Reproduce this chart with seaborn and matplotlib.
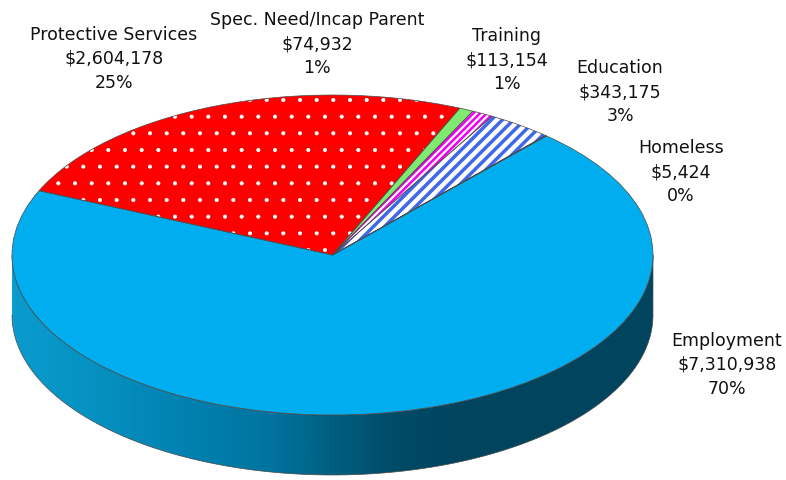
import numpy as np
import matplotlib
matplotlib.use("Agg")
import matplotlib.pyplot as plt
from matplotlib.colors import LinearSegmentedColormap
from matplotlib.patches import PathPatch
from matplotlib.path import Path
import seaborn as sns

categories = ["Protective Services", "Spec. Need/Incap Parent", "Training",
              "Education", "Homeless", "Employment"]
amounts = [2604178, 74932, 113154, 343175, 5424, 7310938]
amount_labels = ["$2,604,178", "$74,932", "$113,154", "$343,175", "$5,424", "$7,310,938"]
percent_labels = ["25%", "1%", "1%", "3%", "0%", "70%"]

fills = ["#FF0000", "#7FEA70", "#FFFFFF", "#FFFFFF", "#222222", "#00ADEF"]
hatch_colors = ["#FFFFFF", "#7FEA70", "#F000F0", "#3F68E8", "#222222", "#00ADEF"]
hatches = [".", None, "/////", "///", None, None]
hatch_widths = [0.5, 1.0, 1.8, 2.5, 1.0, 1.0]
label_centres = [(114, 59), (317, 44), (507, 60), (620, 92), (681, 172), (727, 365)]
wall_stops = [(0.0, "#0A9CCF"), (0.137, "#0590C0"), (0.293, "#007FAD"), (0.40, "#0074A0"),
              (0.50, "#005F80"), (0.605, "#004A66"), (0.70, "#00445E"), (1.0, "#00445E")]

W, H = 786, 480
CX, CY, RX, RY, DEPTH = 332.5, 255, 320.5, 160, 60

sns.set_theme(style="white")
plt.rcParams["font.family"] = ["DejaVu Sans"]

fig = plt.figure(figsize=(W / 100, H / 100), dpi=100)
ax = fig.add_axes([0, 0, 1, 1])

# hatched fill layer
wedges, _ = ax.pie(amounts, startangle=156.3, counterclock=False, radius=1,
                   colors=fills, wedgeprops=dict(linewidth=0))
for w, hc, ha, hw in zip(wedges, hatch_colors, hatches, hatch_widths):
    w.set_edgecolor(hc)
    w.set_hatch(ha)
    w.set_hatch_linewidth(hw)
    w.set_zorder(3)
# thin outline layer
outline, _ = ax.pie(amounts, startangle=156.3, counterclock=False, radius=1,
                    wedgeprops=dict(fill=False, edgecolor="#4A4A4A", linewidth=0.5))
for w in outline:
    w.set_zorder(4)

ax.set_aspect("auto")
xlim = (-CX / RX, (W - CX) / RX)
ylim = (-(H - CY) / RY, CY / RY)

# side wall
t = np.linspace(np.pi, 2 * np.pi, 200)
d = DEPTH / RY
xs = np.r_[np.cos(t), np.cos(t[::-1])]
ys = np.r_[np.sin(t), np.sin(t[::-1]) - d]
wall = PathPatch(Path(np.c_[xs, ys]), transform=ax.transData, fc="none",
                 ec="#4A4A4A", lw=0.5, zorder=2.5)
ax.add_patch(wall)
cmap = LinearSegmentedColormap.from_list("wall", wall_stops)
im = ax.imshow(np.linspace(0, 1, 512)[None, :], cmap=cmap, aspect="auto",
               extent=(-1, 1, -1 - d, 0), zorder=2)
im.set_clip_path(wall)

ax.set_xlim(xlim)
ax.set_ylim(ylim)
ax.axis("off")

for name, amt, pct, (x, y) in zip(categories, amount_labels, percent_labels, label_centres):
    fig.text(x / W, 1 - y / H, f"{name}\n{amt}\n{pct}", ha="center", va="center",
             fontsize=12.5, color="#111111", linespacing=1.42)

fig.savefig("out.png", dpi=100)
